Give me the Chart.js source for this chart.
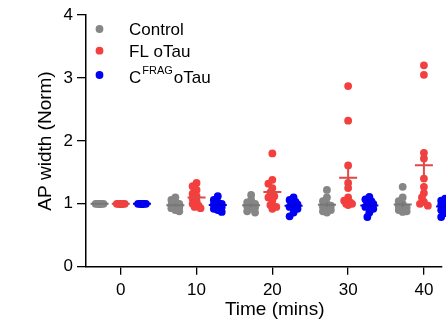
<!DOCTYPE html>
<html>
<head>
<meta charset="utf-8">
<script src="https://cdn.jsdelivr.net/npm/chart.js@4/dist/chart.umd.min.js"></script>
<style>
  html, body { margin: 0; padding: 0; background: #fff; overflow: hidden; }
  #wrap { position: relative; width: 446px; height: 327px; }
</style>
</head>
<body>
<div id="wrap"><canvas id="c"></canvas></div>
<script>
// AP width over time, normalised to t=0 — scatter with mean ± SEM

const times = [0, 10, 20, 30, 40];
const yTicks = [0, 1, 2, 3, 4];
const seriesNames = ['Control', 'FL oTau', 'CFRAG oTau'];

// one row per time point
const controlVals = [
  [1, 1, 1, 1, 1, 1, 1, 1, 1, 1],
  [1.10, 1.06, 1.02, 1.00, 0.98, 0.96, 0.95, 0.93, 0.90, 0.88],
  [1.14, 1.06, 1.02, 1.00, 0.98, 0.96, 0.94, 0.92, 0.88, 0.86],
  [1.22, 1.10, 1.04, 1.00, 0.97, 0.95, 0.93, 0.90, 0.88, 0.86],
  [1.27, 1.10, 1.04, 1.00, 0.96, 0.94, 0.92, 0.90, 0.88, 0.87],
];
const flVals = [
  [1, 1, 1, 1, 1, 1, 1, 1, 1, 1, 1],
  [1.33, 1.28, 1.22, 1.16, 1.12, 1.08, 1.04, 1.00, 0.97, 0.95, 0.93],
  [1.80, 1.38, 1.32, 1.25, 1.18, 1.12, 1.10, 1.05, 0.98, 0.95, 0.92],
  [2.87, 2.32, 1.61, 1.33, 1.25, 1.10, 1.05, 1.02, 1.00, 1.00, 0.98],
  [3.20, 3.05, 1.81, 1.72, 1.40, 1.27, 1.17, 1.10, 1.03, 1.00, 0.97],
];
const cfragVals = [
  [1, 1, 1, 1, 1, 1, 1, 1, 1, 1],
  [1.12, 1.06, 1.02, 1.00, 0.99, 0.97, 0.95, 0.92, 0.90, 0.87],
  [1.10, 1.06, 1.03, 1.01, 0.99, 0.97, 0.95, 0.92, 0.86, 0.80],
  [1.11, 1.07, 1.04, 1.02, 1.00, 0.98, 0.95, 0.92, 0.86, 0.79],
  [1.08, 1.05, 1.02, 1.00, 0.98, 0.96, 0.93, 0.90, 0.85, 0.79],
];

const FONT = '"Liberation Sans", Arial, sans-serif';
const X_PX = 7.66;   // px per minute on the x axis
const Y_PX = 62.9;   // px per unit on the y axis

const groups = [
  { name: seriesNames[0], vals: controlVals, shift: -2.8, color: '#868686', line: '#777777' },
  { name: seriesNames[1], vals: flVals,      shift: 0,    color: '#f43f3f', line: '#e04848' },
  { name: seriesNames[2], vals: cfragVals,   shift: 2.8,  color: '#0000f5', line: '#0000e0' },
];

// tight beeswarm: points may overlap a fair bit, like the Prism original
function swarm(vals) {
  const cands = [0, -2, 2, -4, 4];
  const placed = [];
  return vals.map(v => {
    const yp = v * Y_PX;
    let best = 0, bestD = -1;
    for (const c of cands) {
      let d = Infinity;
      for (const p of placed) d = Math.min(d, Math.hypot(p.x - c, p.y - yp));
      if (d >= 4.5) { best = c; bestD = d; break; }
      if (d > bestD) { bestD = d; best = c; }
    }
    placed.push({ x: best, y: yp });
    return best / X_PX;
  });
}

const datasets = groups.map(g => {
  const data = [];
  g.vals.forEach((vals, ti) => {
    const jit = swarm(vals);
    vals.forEach((v, i) => data.push({ x: times[ti] + g.shift + jit[i], y: v }));
  });
  return {
    label: g.name, data,
    backgroundColor: g.color, borderWidth: 0,
    pointRadius: 3.9, pointHoverRadius: 3.9,
    clip: false,
  };
});

const meanSem = {
  id: 'meanSem',
  afterDatasetsDraw(chart) {
    const ctx = chart.ctx, xs = chart.scales.x, ys = chart.scales.y;
    ctx.save();
    ctx.lineWidth = 2;
    groups.forEach(g => {
      g.vals.forEach((vals, ti) => {
        const n = vals.length;
        const m = vals.reduce((a, b) => a + b, 0) / n;
        const sd = Math.sqrt(vals.reduce((a, b) => a + (b - m) ** 2, 0) / (n - 1));
        const sem = sd / Math.sqrt(n);
        const cx = xs.getPixelForValue(times[ti] + g.shift);
        const my = ys.getPixelForValue(m);
        ctx.strokeStyle = g.line;
        ctx.beginPath();
        ctx.moveTo(cx - 9, my); ctx.lineTo(cx + 9, my);
        ctx.moveTo(cx, ys.getPixelForValue(m + sem));
        ctx.lineTo(cx, ys.getPixelForValue(m - sem));
        ctx.stroke();
      });
    });
    ctx.restore();
  }
};

const extras = {
  id: 'extras',
  afterDraw(chart) {
    const ctx = chart.ctx;
    ctx.save();
    ctx.fillStyle = '#000';
    // axis titles
    ctx.font = '19px ' + FONT;
    ctx.textAlign = 'center';
    ctx.textBaseline = 'middle';
    ctx.fillText('Time (mins)', 274.7, 310);
    ctx.translate(46, 141);
    ctx.rotate(-Math.PI / 2);
    ctx.fillText('AP width (Norm)', 0, 0);
    ctx.setTransform(1, 0, 0, 1, 0, 0);

    // legend
    const markY = [29, 50.7, 75];
    const baseY = [34.5, 56.7, 82.7];
    ctx.textAlign = 'left';
    ctx.textBaseline = 'alphabetic';
    groups.forEach((g, i) => {
      ctx.fillStyle = g.color;
      ctx.beginPath();
      ctx.arc(99.5, markY[i], 3.9, 0, Math.PI * 2);
      ctx.fill();
      ctx.fillStyle = '#000';
      ctx.font = '17px ' + FONT;
      if (i < 2) {
        ctx.fillText(g.name, 129, baseY[i]);
      } else {
        ctx.fillText('C', 129, baseY[i]);
        const cw = ctx.measureText('C').width;
        ctx.font = '11px ' + FONT;
        ctx.fillText('FRAG', 129 + cw + 1, baseY[i] - 8.5);
        const fw = ctx.measureText('FRAG').width;
        ctx.font = '17px ' + FONT;
        ctx.fillText('oTau', 129 + cw + fw + 2, baseY[i]);
      }
    });
    ctx.restore();
  }
};

new Chart(document.getElementById('c'), {
  type: 'scatter',
  data: { datasets },
  options: {
    responsive: true,
    maintainAspectRatio: false,
    animation: false,
    devicePixelRatio: 1,
    layout: { padding: { top: 15, left: 0, right: 0, bottom: 0 } },
    plugins: { legend: { display: false }, tooltip: { enabled: false } },
    scales: {
      x: {
        type: 'linear',
        min: -4.59, max: 42.4,
        afterBuildTicks: s => { s.ticks = times.map(v => ({ value: v })); },
        afterFit: s => { s.height = 60.3; },
        grid: { drawOnChartArea: false, drawTicks: true, tickLength: 8, color: '#000', lineWidth: 1.3 },
        border: { display: true, color: '#000', width: 1.5 },
        ticks: { color: '#000', padding: 5, maxRotation: 0, font: { size: 17, family: FONT } },
      },
      y: {
        min: 0, max: 4,
        afterBuildTicks: s => { s.ticks = yTicks.map(v => ({ value: v })); },
        afterFit: s => { s.width = 86; },
        grid: { drawOnChartArea: false, drawTicks: true, tickLength: 9, color: '#000', lineWidth: 1.3 },
        border: { display: true, color: '#000', width: 1.5 },
        ticks: { color: '#000', padding: 4, font: { size: 17, family: FONT } },
      },
    },
  },
  plugins: [meanSem, extras],
});
</script>
</body>
</html>
